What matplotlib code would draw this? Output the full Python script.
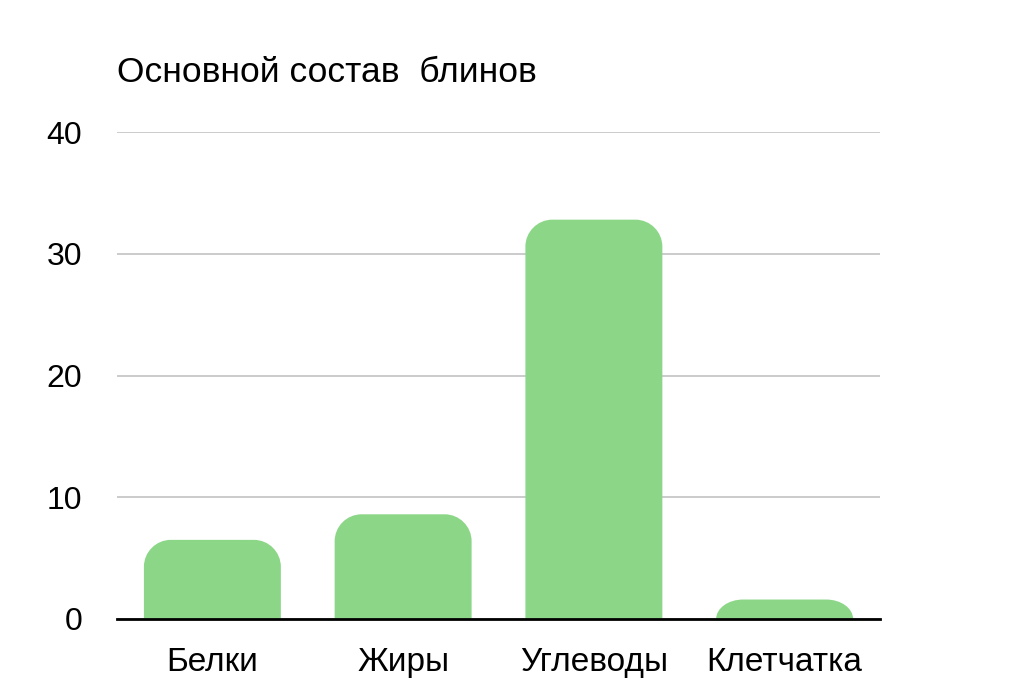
import matplotlib
matplotlib.use("Agg")
import matplotlib.pyplot as plt
from matplotlib.path import Path
from matplotlib.patches import PathPatch

plt.rcParams['font.family'] = ['Liberation Sans', 'DejaVu Sans']

categories = ['Белки', 'Жиры', 'Углеводы', 'Клетчатка']
values = [6.5, 8.6, 32.8, 1.6]
yticks = [0, 10, 20, 30, 40]
title = 'Основной состав  блинов'
bar_color = '#8cd688'


def rounded_bar(ax, x0, w, h, rx, ry):
    ry = min(ry, h)
    k = 0.5523
    verts = [
        (x0, 0), (x0, h - ry),
        (x0, h - ry + k * ry), (x0 + rx - k * rx, h), (x0 + rx, h),
        (x0 + w - rx, h),
        (x0 + w - rx + k * rx, h), (x0 + w, h - ry + k * ry), (x0 + w, h - ry),
        (x0 + w, 0), (x0, 0),
    ]
    codes = [Path.MOVETO, Path.LINETO,
             Path.CURVE4, Path.CURVE4, Path.CURVE4,
             Path.LINETO,
             Path.CURVE4, Path.CURVE4, Path.CURVE4,
             Path.LINETO, Path.CLOSEPOLY]
    ax.add_patch(PathPatch(Path(verts, codes), facecolor=bar_color,
                           edgecolor='none', zorder=3))


fig = plt.figure(figsize=(10.29, 6.93), dpi=100)
ax = fig.add_axes([117 / 1029, 74 / 693, 763 / 1029, 487 / 693])

ax.set_xlim(0, len(categories))
ax.set_ylim(0, 40)

# corner radius ~27 px
rx = 27 / 190.75
ry = 27 / 12.175
bw = 0.718
for i, v in enumerate(values):
    rounded_bar(ax, i + 0.5 - bw / 2, bw, v, rx, ry)

ax.set_yticks(yticks)
ax.set_yticklabels([str(t) for t in yticks], fontsize=23)
ax.set_xticks([i + 0.5 for i in range(len(categories))])
ax.set_xticklabels(categories, fontsize=24)
ax.tick_params(axis='y', length=0, pad=25)
ax.tick_params(axis='x', length=0, pad=20)
ax.yaxis.grid(True, color='#bdbdbd', linewidth=1.1, zorder=0)
ax.set_axisbelow(True)
for s in ['top', 'right', 'left']:
    ax.spines[s].set_visible(False)
ax.spines['bottom'].set_linewidth(2)
ax.spines['bottom'].set_color('black')
ax.spines['bottom'].set_zorder(4)

fig.text(117 / 1029, 1 - 73 / 693, title, fontsize=25.5, ha='left', va='center')

fig.savefig('out.png', dpi=100)
